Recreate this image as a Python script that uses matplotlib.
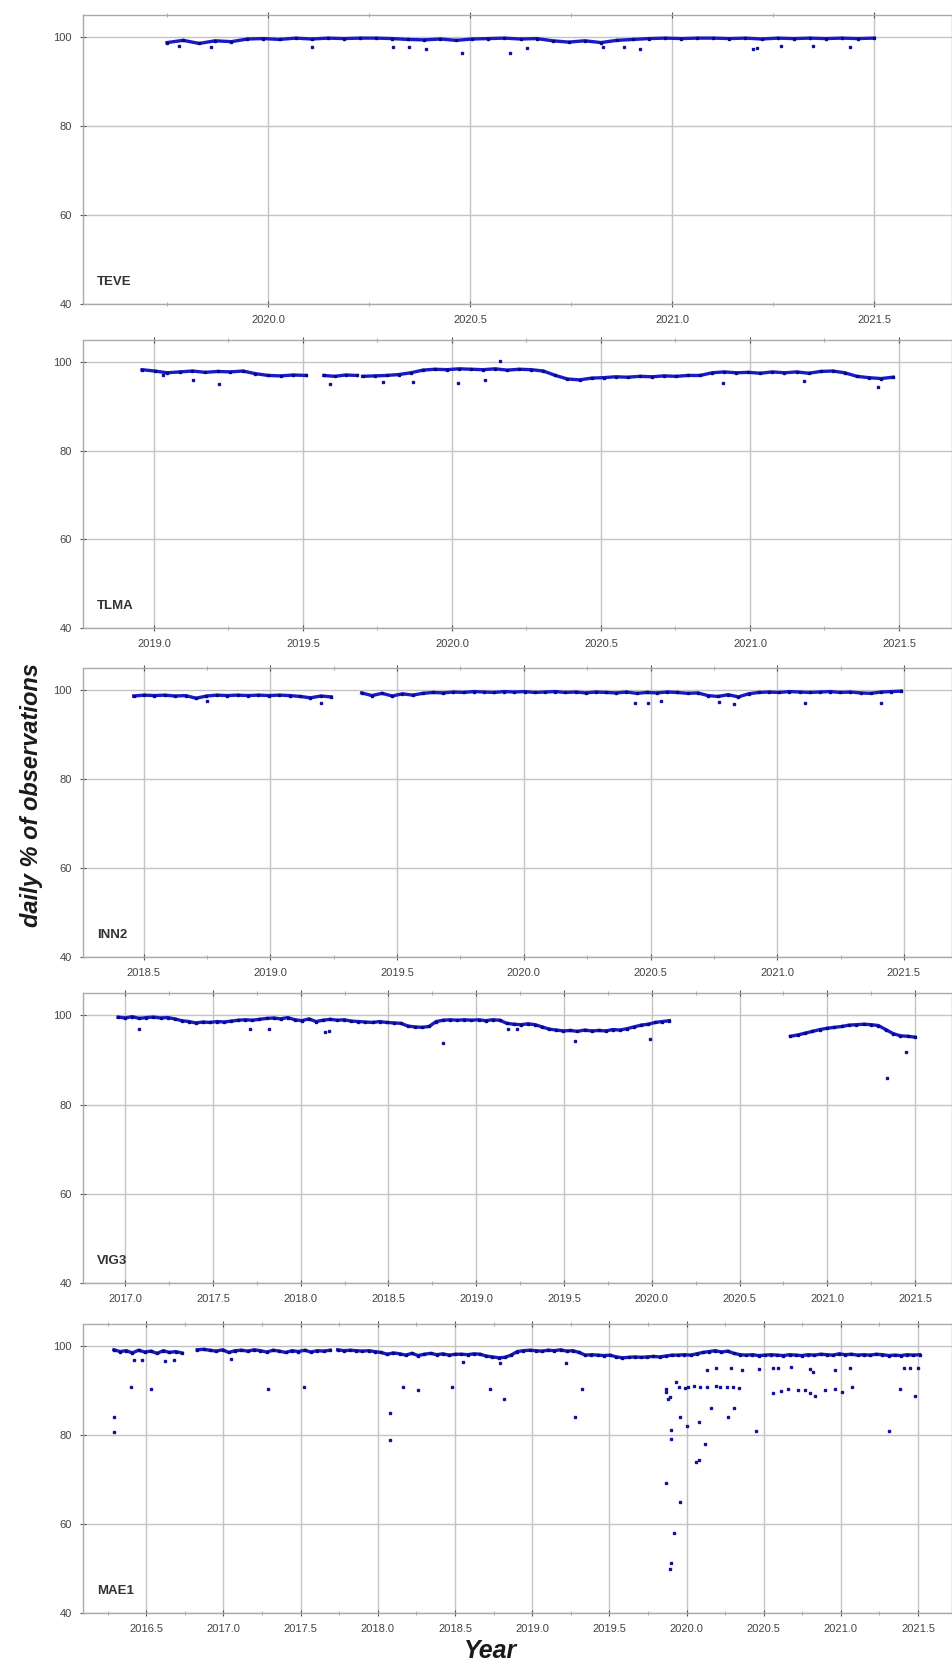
import numpy as np
import matplotlib
matplotlib.use("Agg")
import matplotlib.pyplot as plt
from matplotlib.ticker import MultipleLocator, FormatStrFormatter

plt.rcParams['font.family'] = ['Liberation Sans Narrow', 'Liberation Sans', 'DejaVu Sans']

# ---------------- data (decimal years, daily % of observations) ----------------
stations = ["TEVE", "TLMA", "INN2", "VIG3", "MAE1"]
xlims = [(2019.542, 2021.693), (2018.762, 2021.678), (2018.26, 2021.69),
         (2016.76, 2021.71), (2016.09, 2021.72)]

# TEVE
teve_segments = [
    (2019.75, 2021.50, [98.8, 99.3, 98.6, 99.2, 99.0, 99.6, 99.7, 99.5, 99.8, 99.6,
                        99.8, 99.7, 99.8, 99.8, 99.7, 99.5, 99.4, 99.6, 99.3, 99.6,
                        99.7, 99.8, 99.6, 99.7, 99.2, 98.9, 99.2, 98.8, 99.3, 99.5,
                        99.7, 99.8, 99.7, 99.8, 99.8, 99.7, 99.8, 99.6, 99.8, 99.7,
                        99.8, 99.7, 99.8, 99.7, 99.8]),
]
teve_out_t = [2020.11, 2020.31, 2020.35, 2020.39, 2020.48, 2020.60, 2020.64, 2020.83, 2020.88,
              2020.92, 2021.20, 2021.21, 2021.27, 2021.35, 2021.44, 2019.78, 2019.86]
teve_out_v = [97.8, 97.8, 97.8, 97.3, 96.4, 96.4, 97.6, 97.8, 97.8,
              97.3, 97.3, 97.6, 98.0, 98.0, 97.8, 98.0, 97.9]

# TLMA
tlma_segments = [
    (2018.96, 2019.51, [98.3, 98.0, 97.6, 97.8, 98.0, 97.7, 97.9, 97.8, 98.0, 97.4,
                        97.0, 96.9, 97.1, 97.0]),
    (2019.57, 2019.68, [97.0, 96.8, 97.1, 97.0]),
    (2019.70, 2021.48, [96.8, 96.9, 97.0, 97.2, 97.6, 98.2, 98.4, 98.3, 98.5, 98.4,
                        98.3, 98.5, 98.2, 98.4, 98.3, 98.0, 97.0, 96.2, 96.0, 96.4,
                        96.5, 96.7, 96.6, 96.8, 96.7, 96.9, 96.8, 97.0, 97.0, 97.6,
                        97.8, 97.6, 97.7, 97.5, 97.8, 97.6, 97.8, 97.5, 97.9, 98.0,
                        97.6, 96.8, 96.5, 96.3, 96.6]),
]
tlma_out_t = [2019.13, 2019.22, 2019.59, 2019.77, 2019.87, 2020.02, 2020.11, 2020.16,
              2020.91, 2021.18, 2021.43, 2019.03]
tlma_out_v = [96.0, 95.0, 95.0, 95.5, 95.5, 95.3, 96.0, 100.3, 95.3, 95.8, 94.3, 97.0]

# INN2
inn2_segments = [
    (2018.46, 2019.24, [98.7, 98.9, 98.8, 98.9, 98.7, 98.8, 98.2, 98.7, 98.9, 98.8,
                        98.9, 98.8, 98.9, 98.8, 98.9, 98.8, 98.6, 98.3, 98.7, 98.5]),
    (2019.36, 2021.49, [99.4, 98.8, 99.3, 98.7, 99.2, 98.9, 99.3, 99.5, 99.4, 99.6,
                        99.5, 99.7, 99.6, 99.5, 99.7, 99.6, 99.7, 99.5, 99.6, 99.7,
                        99.5, 99.6, 99.4, 99.6, 99.5, 99.4, 99.6, 99.3, 99.5, 99.4,
                        99.6, 99.5, 99.3, 99.4, 98.8, 98.6, 99.0, 98.5, 99.2, 99.5,
                        99.6, 99.5, 99.7, 99.6, 99.5, 99.6, 99.7, 99.5, 99.6, 99.4,
                        99.3, 99.6, 99.7, 99.8]),
]
inn2_out_t = [2019.20, 2020.44, 2020.49, 2020.54, 2020.83, 2021.11, 2021.41, 2018.75, 2020.77]
inn2_out_v = [97.1, 97.1, 97.1, 97.5, 96.9, 97.1, 97.1, 97.6, 97.4]

# VIG3
vig3_segments = [
    (2016.96, 2020.10, [99.6, 99.4, 99.7, 99.3, 99.5, 99.6, 99.4, 99.5, 99.2, 98.8,
                        98.6, 98.3, 98.5, 98.4, 98.6, 98.5, 98.7, 98.9, 99.0, 98.9,
                        99.1, 99.3, 99.4, 99.2, 99.5, 99.0, 98.8, 99.2, 98.6, 98.9,
                        99.1, 98.9, 99.0, 98.7, 98.6, 98.5, 98.4, 98.6, 98.4, 98.3,
                        98.2, 97.6, 97.4, 97.3, 97.5, 98.6, 98.9, 99.0, 98.9, 99.0,
                        98.9, 99.0, 98.8, 99.0, 98.9, 98.2, 98.0, 97.9, 98.1, 97.9,
                        97.4, 96.9, 96.7, 96.5, 96.6, 96.4, 96.7, 96.5, 96.6, 96.5,
                        96.8, 96.7, 97.0, 97.4, 97.8, 98.0, 98.4, 98.6, 98.8]),
    (2020.79, 2021.50, [95.3, 95.6, 96.0, 96.4, 96.8, 97.1, 97.3, 97.5, 97.8, 97.9,
                        98.0, 97.9, 97.7, 96.8, 95.9, 95.4, 95.3, 95.1]),
]
vig3_out_t = [2017.71, 2017.82, 2018.14, 2018.16, 2018.81, 2019.18, 2019.23, 2019.56,
              2019.99, 2021.34, 2021.45, 2017.08]
vig3_out_v = [96.9, 96.9, 96.2, 96.4, 93.9, 96.9, 96.9, 94.2, 94.6, 86.0, 91.7, 97.0]

# MAE1
mae1_segments = [
    (2016.29, 2016.73, [99.2, 98.8, 99.0, 98.5, 99.1, 98.7, 98.9, 98.4, 99.0, 98.6,
                        98.8, 98.5]),
    (2016.83, 2017.69, [99.2, 99.3, 99.1, 98.9, 99.2, 98.6, 99.0, 99.1, 98.9, 99.2,
                        99.0, 98.7, 99.1, 98.9, 98.6, 99.0, 98.8, 99.1, 98.7, 99.0,
                        98.9, 99.1]),
    (2017.74, 2021.51, [99.2, 99.0, 99.1, 99.0, 98.9, 99.0, 98.8, 98.6, 98.2, 98.5,
                        98.3, 98.0, 98.4, 97.9, 98.2, 98.4, 98.1, 98.3, 98.0, 98.2,
                        98.2, 98.1, 98.3, 98.2, 97.8, 97.6, 97.4, 97.5, 98.0, 98.8,
                        99.0, 99.1, 99.0, 98.9, 99.1, 99.0, 99.2, 98.9, 99.0, 98.6,
                        98.0, 98.1, 98.0, 97.9, 98.0, 97.6, 97.4, 97.5, 97.6, 97.5,
                        97.6, 97.7, 97.6, 97.8, 98.0, 98.0, 98.1, 98.0, 98.3, 98.6,
                        98.8, 99.0, 98.7, 98.9, 98.4, 98.1, 98.0, 98.1, 97.9, 98.0,
                        98.1, 98.0, 97.9, 98.1, 98.0, 97.9, 98.1, 98.0, 98.2, 98.1,
                        98.0, 98.3, 98.1, 98.2, 98.0, 98.1, 98.0, 98.2, 98.1, 97.9,
                        98.0, 97.9, 98.1, 98.0, 98.1]),
]
mae1_out_t = [2016.29, 2016.29, 2016.40, 2016.53, 2017.29, 2017.52, 2018.08, 2018.08,
              2018.16, 2018.26, 2018.48, 2018.73, 2018.82, 2019.28, 2019.32, 2019.22,
              2019.87, 2019.89, 2019.90, 2019.92, 2019.90, 2019.90, 2019.96, 2019.96,
              2020.00, 2020.08, 2020.08, 2020.06, 2020.12, 2020.16, 2020.27, 2020.31,
              2020.45, 2021.31, 2021.38, 2021.48,
              2019.87, 2019.89, 2019.93, 2019.95, 2019.99, 2020.01, 2020.05, 2020.09,
              2020.13, 2020.19, 2020.22, 2020.26, 2020.30, 2020.34, 2019.88, 2019.87,
              2020.56, 2020.61, 2020.66, 2020.72, 2020.77, 2020.80, 2020.83, 2020.90,
              2020.96, 2021.01, 2021.07,
              2020.13, 2020.19, 2020.29, 2020.36, 2020.47, 2020.56, 2020.59, 2020.68,
              2020.80, 2020.82, 2020.96, 2021.06, 2021.41, 2021.45, 2021.50,
              2016.42, 2016.47, 2016.62, 2016.68, 2017.05, 2018.55, 2018.79]
mae1_out_v = [84.1, 80.7, 90.9, 90.3, 90.3, 90.9, 84.9, 78.9,
              90.9, 90.1, 90.9, 90.3, 88.1, 84.1, 90.3, 96.2,
              69.2, 49.9, 51.2, 58.0, 81.1, 79.1, 65.0, 84.1,
              82.0, 83.0, 74.4, 73.9, 78.0, 86.0, 84.1, 86.0,
              81.0, 81.0, 90.3, 88.8,
              90.3, 88.6, 92.0, 90.9, 90.6, 90.8, 91.0, 90.8,
              90.9, 91.0, 90.8, 90.9, 90.9, 90.7, 88.1, 89.6,
              89.5, 89.9, 90.4, 90.2, 90.1, 89.5, 88.9, 90.1,
              90.3, 89.6, 90.9,
              94.6, 95.0, 95.0, 94.6, 94.8, 95.0, 95.1, 95.3,
              94.8, 94.1, 94.6, 95.0, 95.0, 95.0, 95.0,
              97.0, 96.8, 96.6, 96.9, 97.2, 96.5, 96.3]

all_segments = [teve_segments, tlma_segments, inn2_segments, vig3_segments, mae1_segments]
all_out = [(teve_out_t, teve_out_v), (tlma_out_t, tlma_out_v), (inn2_out_t, inn2_out_v),
           (vig3_out_t, vig3_out_v), (mae1_out_t, mae1_out_v)]

# ---------------- layout ----------------
W, H = 953, 1673
fig = plt.figure(figsize=(W / 100, H / 100), dpi=100)
panels_px = [(15, 304), (340, 628), (668, 957), (993, 1283), (1324, 1613)]
left, right = 83 / W, 952 / W

blue = '#1a1ac8'
for i, (top, bot) in enumerate(panels_px):
    ax = fig.add_axes([left, 1 - bot / H, right - left, (bot - top) / H])
    for (t0, t1, vals) in all_segments[i]:
        t = np.linspace(t0, t1, len(vals))
        ax.plot(t, vals, color=blue, lw=2.4, solid_joinstyle='round', zorder=3)
        ax.plot(t, vals, ls='none', marker='s', ms=1.5, color='#0a0a80', zorder=4)
    ot, ov = all_out[i]
    ax.plot(ot, ov, ls='none', marker='s', ms=1.8, color='#12129a', zorder=4)

    ax.set_xlim(*xlims[i])
    ax.set_ylim(40, 105)
    ax.xaxis.set_major_locator(MultipleLocator(0.5))
    ax.xaxis.set_minor_locator(MultipleLocator(0.25))
    ax.xaxis.set_major_formatter(FormatStrFormatter('%.1f'))
    ax.set_yticks([40, 60, 80, 100])
    ax.grid(True, which='major', color='#c4c4c4', lw=1.0)
    ax.set_axisbelow(True)
    for s in ax.spines.values():
        s.set_color('#aaaaaa')
        s.set_linewidth(1.0)
    ax.tick_params(axis='both', which='major', labelsize=8, colors='#555555',
                   labelcolor='#444444', length=4, direction='inout', pad=6)
    ax.tick_params(axis='x', which='minor', length=3, direction='inout', colors='#999999')
    ax.tick_params(axis='x', which='both', top=True)
    ax.text(0.016, 0.055, stations[i], transform=ax.transAxes, fontsize=9.5,
            fontweight='bold', color='#333333', ha='left', va='bottom')

fig.text(0.033, 0.525, 'daily % of observations', rotation=90, ha='center', va='center',
         fontsize=17, fontweight='bold', fontstyle='italic', color='#1a1a1a',
         family=['Liberation Sans', 'DejaVu Sans'])
fig.text(0.515, 0.013, 'Year', ha='center', va='center', fontsize=18,
         fontweight='bold', fontstyle='italic', color='#1a1a1a')

fig.savefig('out.png', dpi=100)
